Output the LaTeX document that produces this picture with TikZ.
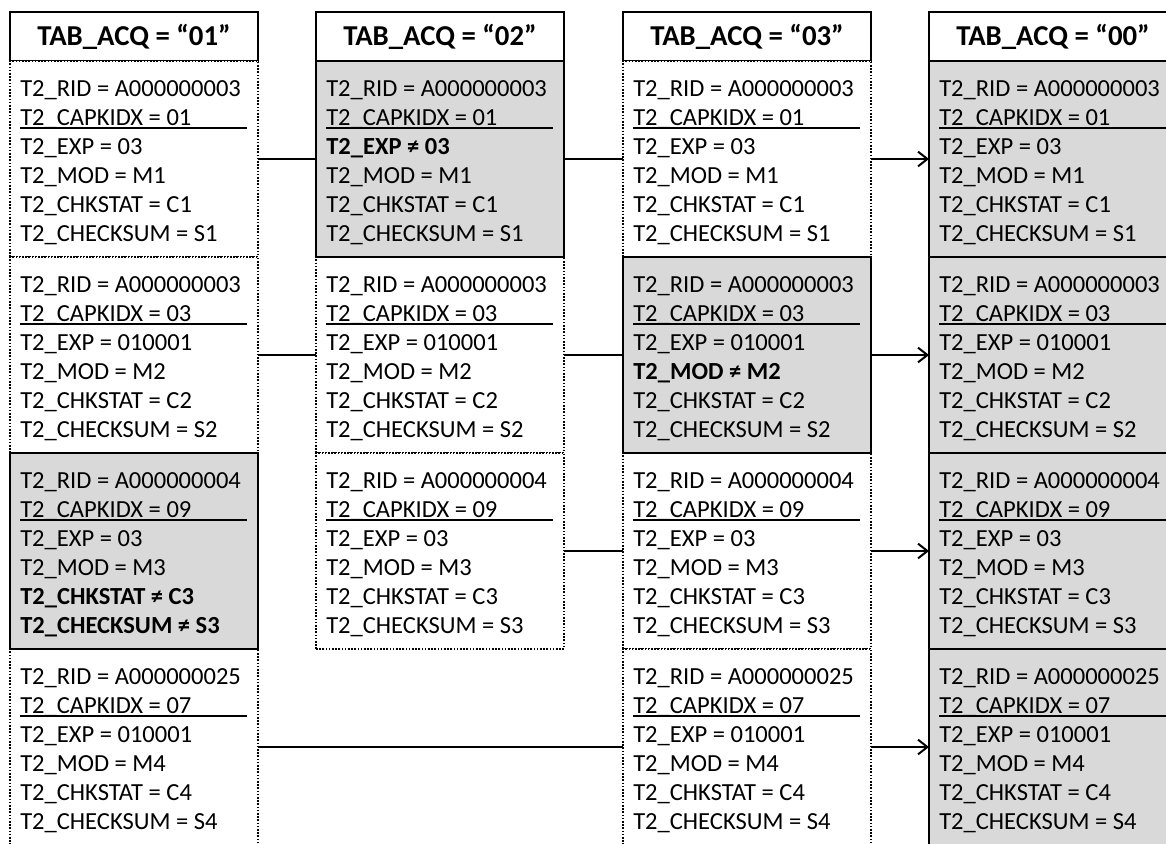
\documentclass[tikz,border=0pt]{standalone}
\usepackage{fontspec}
\setmainfont{Carlito}
\usetikzlibrary{arrows.meta}
\definecolor{boxgray}{HTML}{D9D9D9}
\tikzset{
  boxbase/.style={anchor=north west, minimum width=186pt, minimum height=147pt, inner sep=0pt, outer sep=0pt},
  wbox/.style={boxbase, draw=black, fill=white, line width=1.7pt, dash pattern=on 1.2pt off 1.2pt},
  gbox/.style={boxbase, draw=black, fill=boxgray, line width=1.7pt},
  hbox/.style={anchor=north west, minimum width=186pt, minimum height=36.75pt, inner sep=0pt, outer sep=0pt, draw=black, line width=1.6pt, fill=white, font=\fontsize{21.6}{26}\selectfont\bfseries},
  lbl/.style={anchor=base west, inner sep=0pt, font=\fontsize{18.4}{22}\selectfont},
  uline/.style={line width=0.8pt},
  conn/.style={line width=1.5pt},
  arr/.style={conn, -{Straight Barb[length=7pt, width=11pt, line width=1.5pt]}},
}
\newcommand\recbox[5]{%
  \node[#4] (#1) at (#2,#3) {};
  \draw[uline] ({#2+10},{#3+67}) -- ({#2+237},{#3+67});
  \foreach \txt [count=\i from 0] in {#5} {\node[lbl] (#1-\i) at ({#2+10},{#3+35+29*\i}) {\txt};}
}
\begin{document}
\begin{tikzpicture}[x=0.75pt, y=-0.75pt]
\clip (0,0) rectangle (1166,843);
\fill[white] (0,0) rectangle (1166,843);
% headers
\node[hbox] (h1) at (10,12) {TAB\_ACQ = “01”};
\node[hbox] (h2) at (316,12) {TAB\_ACQ = “02”};
\node[hbox] (h3) at (623,12) {TAB\_ACQ = “03”};
\node[hbox] (h4) at (929,12) {TAB\_ACQ = “00”};
% column 1
\recbox{a1}{10}{61}{wbox}{T2\_RID = A000000003, T2\_CAPKIDX = 01, T2\_EXP = 03, T2\_MOD = M1, T2\_CHKSTAT = C1, T2\_CHECKSUM = S1}
\recbox{a2}{10}{257}{wbox}{T2\_RID = A000000003, T2\_CAPKIDX = 03, T2\_EXP = 010001, T2\_MOD = M2, T2\_CHKSTAT = C2, T2\_CHECKSUM = S2}
\recbox{a4}{10}{649}{wbox}{T2\_RID = A000000025, T2\_CAPKIDX = 07, T2\_EXP = 010001, T2\_MOD = M4, T2\_CHKSTAT = C4, T2\_CHECKSUM = S4}
% column 2
\recbox{b2}{316}{257}{wbox}{T2\_RID = A000000003, T2\_CAPKIDX = 03, T2\_EXP = 010001, T2\_MOD = M2, T2\_CHKSTAT = C2, T2\_CHECKSUM = S2}
\recbox{b3}{316}{453}{wbox}{T2\_RID = A000000004, T2\_CAPKIDX = 09, T2\_EXP = 03, T2\_MOD = M3, T2\_CHKSTAT = C3, T2\_CHECKSUM = S3}
% column 3
\recbox{c1}{623}{61}{wbox}{T2\_RID = A000000003, T2\_CAPKIDX = 01, T2\_EXP = 03, T2\_MOD = M1, T2\_CHKSTAT = C1, T2\_CHECKSUM = S1}
\recbox{c3}{623}{453}{wbox}{T2\_RID = A000000004, T2\_CAPKIDX = 09, T2\_EXP = 03, T2\_MOD = M3, T2\_CHKSTAT = C3, T2\_CHECKSUM = S3}
\recbox{c4}{623}{649}{wbox}{T2\_RID = A000000025, T2\_CAPKIDX = 07, T2\_EXP = 010001, T2\_MOD = M4, T2\_CHKSTAT = C4, T2\_CHECKSUM = S4}
% gray boxes
\recbox{a3}{10}{453}{gbox}{T2\_RID = A000000004, T2\_CAPKIDX = 09, T2\_EXP = 03, T2\_MOD = M3, \textbf{T2\_CHKSTAT ≠ C3}, \textbf{T2\_CHECKSUM ≠ S3}}
\recbox{b1}{316}{61}{gbox}{T2\_RID = A000000003, T2\_CAPKIDX = 01, \textbf{T2\_EXP ≠ 03}, T2\_MOD = M1, T2\_CHKSTAT = C1, T2\_CHECKSUM = S1}
\recbox{c2}{623}{257}{gbox}{T2\_RID = A000000003, T2\_CAPKIDX = 03, T2\_EXP = 010001, \textbf{T2\_MOD ≠ M2}, T2\_CHKSTAT = C2, T2\_CHECKSUM = S2}
\recbox{d1}{929}{61}{gbox}{T2\_RID = A000000003, T2\_CAPKIDX = 01, T2\_EXP = 03, T2\_MOD = M1, T2\_CHKSTAT = C1, T2\_CHECKSUM = S1}
\recbox{d2}{929}{257}{gbox}{T2\_RID = A000000003, T2\_CAPKIDX = 03, T2\_EXP = 010001, T2\_MOD = M2, T2\_CHKSTAT = C2, T2\_CHECKSUM = S2}
\recbox{d3}{929}{453}{gbox}{T2\_RID = A000000004, T2\_CAPKIDX = 09, T2\_EXP = 03, T2\_MOD = M3, T2\_CHKSTAT = C3, T2\_CHECKSUM = S3}
\recbox{d4}{929}{649}{gbox}{T2\_RID = A000000025, T2\_CAPKIDX = 07, T2\_EXP = 010001, T2\_MOD = M4, T2\_CHKSTAT = C4, T2\_CHECKSUM = S4}
% connectors
\draw[conn] (a1.east) -- (b1.west);
\draw[conn] (b1.east) -- (c1.west);
\draw[arr] (c1.east) -- (d1.west);
\draw[conn] (a2.east) -- (b2.west);
\draw[conn] (b2.east) -- (c2.west);
\draw[arr] (c2.east) -- (d2.west);
\draw[conn] (b3.east) -- (c3.west);
\draw[arr] (c3.east) -- (d3.west);
\draw[conn] (a4.east) -- (c4.west);
\draw[arr] (c4.east) -- (d4.west);
\end{tikzpicture}
\end{document}
